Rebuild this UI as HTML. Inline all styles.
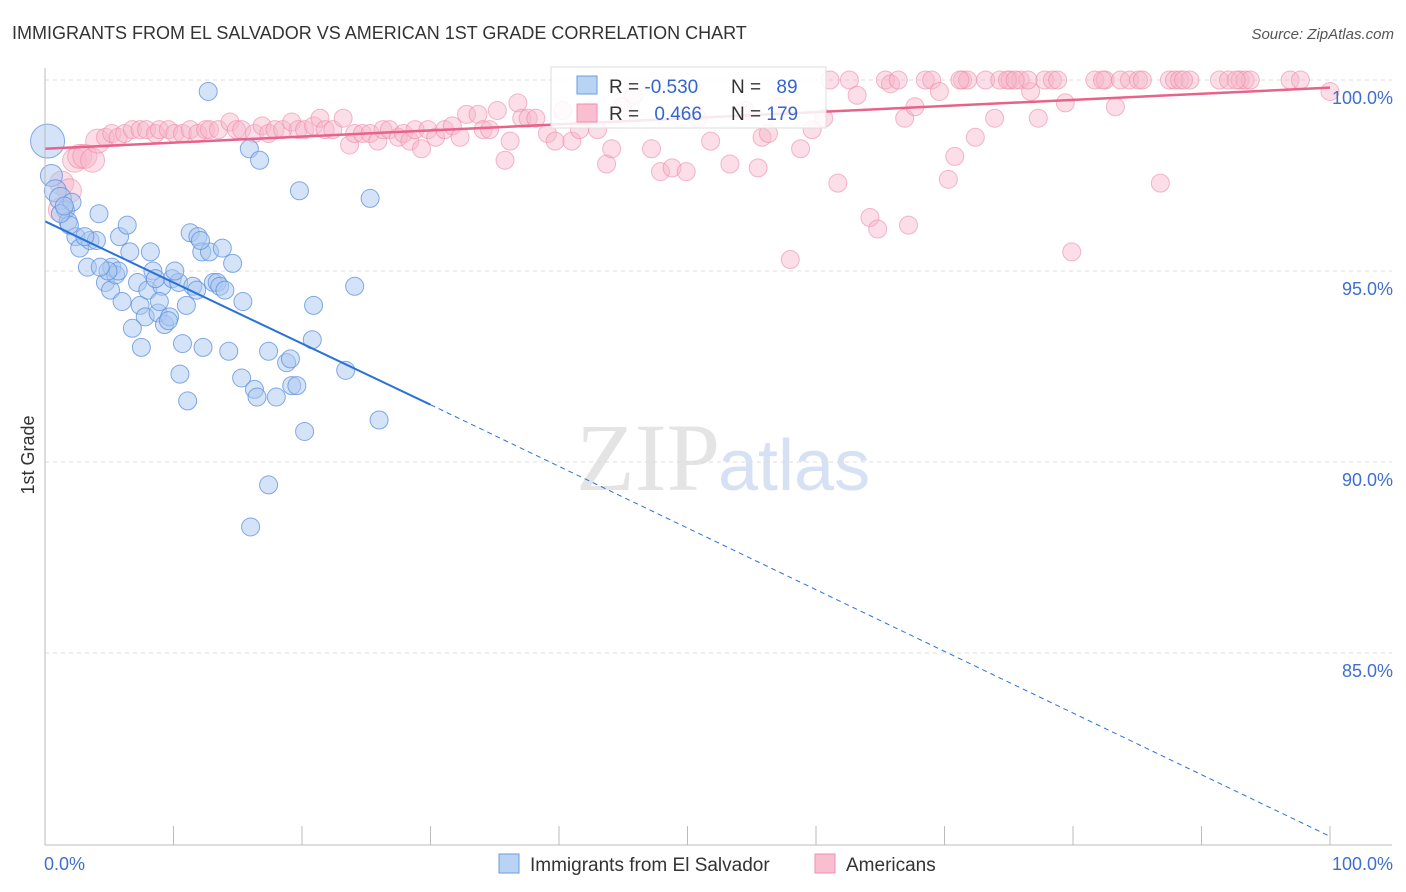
<!DOCTYPE html>
<html><head><meta charset="utf-8">
<style>
body{margin:0;background:#fff;font-family:"Liberation Sans",sans-serif;}
svg{display:block}
</style></head>
<body>
<svg id="chart" width="1406" height="892">
<text x="12" y="39" font-size="18" fill="#333">IMMIGRANTS FROM EL SALVADOR VS AMERICAN 1ST GRADE CORRELATION CHART</text>
<text x="1394" y="39" font-size="15" fill="#555" font-style="italic" text-anchor="end">Source: ZipAtlas.com</text>
<text x="34" y="455" font-size="18" fill="#333" transform="rotate(-90 34 455)" text-anchor="middle">1st Grade</text>
<text x="720" y="490" font-size="96" fill="#e4e4e4" text-anchor="end" font-family="Liberation Serif,serif">ZIP</text>
<text x="718" y="490" font-size="72" fill="#d6e2f3">atlas</text>
<g id="grid"></g>
<g id="pinkpts"></g>
<g id="bluepts"></g>
<g id="lines"></g>
<g id="axes"></g>
<g>
<rect x="551" y="67" width="275" height="61" fill="#fff" fill-opacity="0.85" stroke="#ddd"/>
<rect x="577" y="76" width="20" height="18" fill="#b9d3f5" stroke="#6a9be0"/>
<rect x="577" y="104" width="20" height="18" fill="#f9bfd0" stroke="#ee8fac"/>
<text x="609" y="93" font-size="19" fill="#333">R = <tspan fill="#3366cc">-0.530</tspan></text>
<text x="731" y="93" font-size="19" fill="#333">N = <tspan fill="#3366cc" dx="10">89</tspan></text>
<text x="609" y="120" font-size="19" fill="#333">R = <tspan fill="#3366cc" dx="10">0.466</tspan></text>
<text x="731" y="120" font-size="19" fill="#333">N = <tspan fill="#3366cc">179</tspan></text>
</g>
<g>
<rect x="499" y="854" width="20" height="19" fill="#b9d3f5" stroke="#6a9be0"/>
<text x="530" y="871" font-size="19" fill="#333">Immigrants from El Salvador</text>
<rect x="815" y="854" width="20" height="19" fill="#f9bfd0" stroke="#ee8fac"/>
<text x="846" y="871" font-size="19" fill="#333">Americans</text>
</g>
</svg>
<script>
const yTicks=[100,95,90,85];
const yTickLabels=["100.0%","95.0%","90.0%","85.0%"];
const xTicks=[0,10,20,30,40,50,60,70,80,90,100];
const xEndLabels=["0.0%","100.0%"];
const blueX=[12.7,15.9,16.7,19.8,25.3,0.2,0.5,0.8,1.2,1.6,1.8,2.1,2.4,2.7,1.9,3.5,4.2,5.8,6.4,4.0,3.3,4.7,5.1,5.2,5.5,6.0,6.6,7.2,7.4,8.2,8.4,8.0,7.8,6.8,7.5,8.8,9.3,9.7,9.1,9.9,10.4,11.3,11.9,12.2,12.8,13.8,14.6,11.0,11.5,11.8,10.7,10.5,11.1,12.3,13.1,13.4,13.6,14.0,14.3,15.4,15.3,16.3,16.5,18.0,17.4,18.8,19.1,19.2,19.6,20.2,20.8,20.9,23.4,24.1,26.0,17.4,16.0,8.9,5.7,4.9,4.3,8.6,3.1,1.2,1.5,10.1,12.1,9.6];
const blueY=[99.7,98.2,97.9,97.1,96.9,98.4,97.5,97.1,96.9,96.6,96.3,96.8,95.9,95.6,96.2,95.8,96.5,95.9,96.2,95.8,95.1,94.7,94.5,95.1,94.9,94.2,95.5,94.7,94.1,95.5,95.0,94.5,93.8,93.5,93.0,93.9,93.6,93.8,94.6,94.8,94.7,96.0,95.9,95.5,95.5,95.6,95.2,94.1,94.6,94.5,93.1,92.3,91.6,93.0,94.7,94.7,94.6,94.5,92.9,94.2,92.2,91.9,91.7,91.7,92.9,92.6,92.7,92.0,92.0,90.8,93.2,94.1,92.4,94.6,91.1,89.4,88.3,94.2,95.0,95.0,95.1,94.8,95.9,96.5,96.7,95.0,95.8,93.7];
const pinkX=[1.2,1.3,1.9,2.3,2.7,3.1,3.7,4.1,4.7,5.2,5.7,6.2,6.8,7.4,7.9,8.6,8.9,9.6,10.1,10.7,11.3,11.9,12.5,12.8,13.5,14.4,14.9,15.3,16.3,16.9,17.4,17.9,18.5,19.2,19.7,20.2,20.9,21.4,21.8,22.4,23.2,23.7,24.1,24.7,25.3,25.9,26.3,26.8,27.5,27.9,28.4,28.8,29.3,29.8,30.4,31.1,31.7,32.3,32.8,33.7,34.1,34.6,35.2,35.8,36.2,36.8,37.1,37.6,38.2,39.1,39.7,40.3,41.0,41.6,42.4,43.0,43.7,44.1,44.9,45.8,47.2,47.9,48.8,49.9,50.8,51.8,53.3,54.5,55.5,55.8,56.3,57.2,58.8,59.7,60.6,61.1,61.7,62.6,63.2,64.2,64.8,65.4,65.8,66.4,66.9,67.2,67.7,68.5,69.0,69.6,70.3,70.8,71.4,71.8,72.4,73.2,73.9,74.3,75.1,75.9,76.7,77.3,77.8,78.4,78.8,79.4,79.9,81.7,82.5,83.3,83.7,84.4,85.1,85.4,86.8,87.5,87.9,88.3,89.1,91.4,92.1,93.0,93.4,93.8,96.9,97.7,100,58.0,74.9,76.5,82.3,88.6,92.7,71.2,75.5];
const pinkY=[96.6,97.3,97.1,97.9,98.0,98.0,97.9,98.4,98.5,98.6,98.5,98.6,98.7,98.7,98.7,98.6,98.7,98.7,98.6,98.6,98.7,98.6,98.7,98.7,98.7,98.9,98.7,98.7,98.6,98.8,98.6,98.7,98.7,98.9,98.7,98.7,98.8,99.0,98.7,98.7,99.0,98.3,98.6,98.6,98.6,98.4,98.7,98.7,98.5,98.6,98.4,98.7,98.2,98.7,98.5,98.7,98.8,98.5,99.1,99.1,98.7,98.7,99.2,97.9,98.4,99.4,99.0,99.0,99.0,98.6,98.4,99.2,98.4,98.7,99.2,98.7,97.8,98.2,99.3,99.6,98.2,97.6,97.7,97.6,99.0,98.4,97.8,99.2,97.7,98.5,98.6,99.3,98.2,98.7,99.0,100,97.3,100,99.6,96.4,96.1,100,99.9,100,99.0,96.2,99.3,100,100,99.7,97.4,98.0,100,100,98.5,100,99.0,100,100,100,99.7,99.0,100,100,100,99.4,95.5,100,100,99.3,100,100,100,100,97.3,100,100,100,100,100,100,100,100,100,100,100,99.7,95.3,100,100,100,100,100,100,100];
const blueTrendX=[0,30,100];
const blueTrendY=[96.3,91.5,80.2];
const pinkTrendX=[0,100];
const pinkTrendY=[98.2,99.8];

const NS="http://www.w3.org/2000/svg";
const xs=v=>45+v*12.85;
const ys=v=>80+(100-v)*38.2;
function mk(tag,attrs,parent){const e=document.createElementNS(NS,tag);for(const k in attrs)e.setAttribute(k,attrs[k]);parent.appendChild(e);return e;}
const grid=document.getElementById('grid'),axes=document.getElementById('axes');
yTicks.forEach((t,i)=>{
  const l=mk('line',{x1:45,x2:1392,y1:ys(t),y2:ys(t),stroke:'#ddd','stroke-dasharray':'4,4'},grid);
  
  
  const tx=mk('text',{x:1393,y:ys(t)+24,'font-size':18,fill:'#3f6fce','text-anchor':'end'},axes);
  tx.textContent=yTickLabels[i];
  
  
});
const ax=mk('line',{x1:45,x2:45,y1:68,y2:845,stroke:'#bbb'},axes);


const bx=mk('line',{x1:45,x2:1392,y1:845,y2:845,stroke:'#bbb'},axes);


xTicks.forEach(t=>{
  const l=mk('line',{x1:xs(t),x2:xs(t),y1:826,y2:845,stroke:'#bbb'},axes);
  
  
});
const xl0=mk('text',{x:44,y:870,'font-size':18,fill:'#3f6fce'},axes);
xl0.textContent=xEndLabels[0];


const xl1=mk('text',{x:1393,y:870,'font-size':18,fill:'#3f6fce','text-anchor':'end'},axes);
xl1.textContent=xEndLabels[1];



const pg=document.getElementById('pinkpts');
pinkX.forEach((x,i)=>{
  const r=(i<8)?12:9;
  const c=mk('circle',{cx:xs(x),cy:ys(pinkY[i]),r:r,fill:'#f7b6c9','fill-opacity':0.45,stroke:'#ec8aa8','stroke-opacity':0.6},pg);
  
  
});
const bg=document.getElementById('bluepts');
blueX.forEach((x,i)=>{
  const r=(i===5)?17:(i<9&&i>5?11:9);
  const c=mk('circle',{cx:xs(x),cy:ys(blueY[i]),r:r,fill:'#a9c8f0','fill-opacity':0.5,stroke:'#5b8fe0','stroke-opacity':0.75},bg);
  
  
});
const lg=document.getElementById('lines');
const b1=mk('line',{x1:xs(blueTrendX[0]),y1:ys(blueTrendY[0]),x2:xs(blueTrendX[1]),y2:ys(blueTrendY[1]),stroke:'#2a72d8','stroke-width':2},lg);


const b2=mk('line',{x1:xs(blueTrendX[1]),y1:ys(blueTrendY[1]),x2:xs(blueTrendX[2]),y2:ys(blueTrendY[2]),stroke:'#2a72d8','stroke-width':1,'stroke-dasharray':'5,4'},lg);


const p1=mk('line',{x1:xs(pinkTrendX[0]),y1:ys(pinkTrendY[0]),x2:xs(pinkTrendX[1]),y2:ys(pinkTrendY[1]),stroke:'#e8628a','stroke-width':2.5},lg);


</script>
</body></html>
